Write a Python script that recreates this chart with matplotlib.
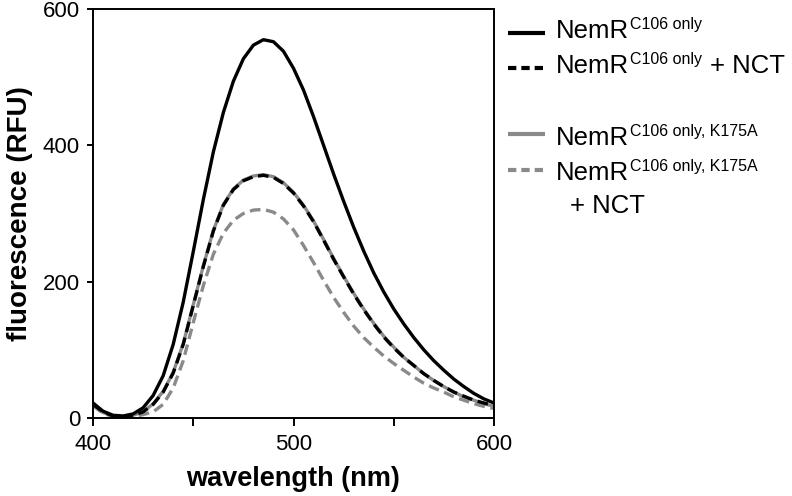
import numpy as np
import matplotlib
matplotlib.use("Agg")
import matplotlib.pyplot as plt
from matplotlib.lines import Line2D

plt.rcParams['font.family'] = ['Liberation Sans', 'DejaVu Sans']

# wavelength (nm) and fluorescence (RFU)
wavelength = [400, 405, 410, 415, 420, 425, 430, 435, 440, 445, 450,
              455, 460, 465, 470, 475, 480, 485, 490, 495, 500,
              505, 510, 515, 520, 525, 530, 535, 540, 545, 550,
              555, 560, 565, 570, 575, 580, 585, 590, 595, 600]

nemr = [22, 10, 4, 3, 6, 15, 33, 62, 108, 170, 244,
        320, 390, 448, 494, 527, 547, 555, 552, 538, 513,
        481, 442, 400, 358, 318, 280, 245, 213, 185, 160,
        138, 118, 100, 84, 70, 57, 46, 36, 28, 22]

nemr_nct = [20, 9, 3, 2, 4, 9, 20, 38, 66, 108, 165,
            222, 274, 312, 335, 348, 354, 356, 353, 344, 330,
            311, 288, 261, 233, 207, 182, 159, 138, 119, 103,
            89, 77, 65, 55, 46, 38, 32, 26, 22, 18]

k175a = [19, 8, 3, 2, 4, 9, 21, 39, 67, 109, 166,
         223, 275, 313, 336, 349, 355, 357, 354, 345, 331,
         312, 289, 262, 234, 208, 183, 160, 139, 120, 104,
         89, 77, 65, 55, 46, 38, 31, 26, 21, 17]

k175a_nct = [18, 7, 2, 1, 2, 5, 9, 20, 44, 84, 140,
             194, 240, 271, 290, 300, 305, 306, 302, 292, 276,
             253, 228, 202, 177, 155, 135, 118, 104, 91, 80,
             70, 60, 51, 44, 38, 31, 26, 21, 17, 14]

grey = '#8a8a8a'
dash = (3.2, 1.7)

fig = plt.figure(figsize=(7.92, 4.96), dpi=100)
ax = fig.add_axes((93 / 792, 1 - 418 / 496, 401 / 792, 409 / 496))

ax.plot(wavelength, k175a_nct, color=grey, lw=2.4, dashes=dash)
ax.plot(wavelength, k175a, color=grey, lw=2.4)
ax.plot(wavelength, nemr_nct, color='black', lw=2.4, dashes=dash)
ax.plot(wavelength, nemr, color='black', lw=2.4)

ax.set_xlim(400, 600)
ax.set_ylim(0, 600)
ax.set_xticks([400, 450, 500, 550, 600])
ax.set_xticklabels(['400', '', '500', '', '600'])
ax.set_yticks([0, 200, 400, 600])
for s in ax.spines.values():
    s.set_linewidth(1.4)
ax.tick_params(axis='x', length=5.8, width=1.4, labelsize=16, pad=6)
ax.tick_params(axis='y', length=4.3, width=1.4, labelsize=16, pad=5)
ax.set_xlabel('wavelength (nm)', fontsize=19.5, fontweight='bold', labelpad=8)
ax.set_ylabel('fluorescence (RFU)', fontsize=20, fontweight='bold', labelpad=7)

# legend drawn by hand so the superscripts can match
W, H = 792, 496
def fx(px):
    return px / W
def fy(py):
    return 1 - py / H

def entry(y_base, sup, color, dashed, y_line, extra=None):
    kw = dict(color=color, lw=3.0, solid_capstyle='butt', dash_capstyle='butt')
    if dashed:
        kw['dashes'] = (2.0, 1.2)
    fig.add_artist(Line2D([fx(508), fx(545)], [fy(y_line), fy(y_line)],
                          transform=fig.transFigure, **kw))
    t = fig.text(fx(556), fy(y_base), 'NemR', fontsize=18.5, va='baseline')
    s = ax.annotate(sup, xy=(1, 0), xycoords=t, xytext=(0.5, 7.6),
                    textcoords='offset points', fontsize=11.5,
                    va='bottom', ha='left', annotation_clip=False)
    if extra:
        ax.annotate(extra, xy=(1, 0), xycoords=s, xytext=(6, -7.6),
                    textcoords='offset points', fontsize=18.5,
                    va='bottom', ha='left', annotation_clip=False)

entry(38, 'C106 only', 'black', False, 33)
entry(73, 'C106 only', 'black', True, 68, '+ NCT')
entry(145, 'C106 only, K175A', grey, False, 134)
entry(180, 'C106 only, K175A', grey, True, 170)
fig.text(fx(570), fy(213), '+ NCT', fontsize=18.5, va='baseline')

fig.savefig('out.png', dpi=100)
